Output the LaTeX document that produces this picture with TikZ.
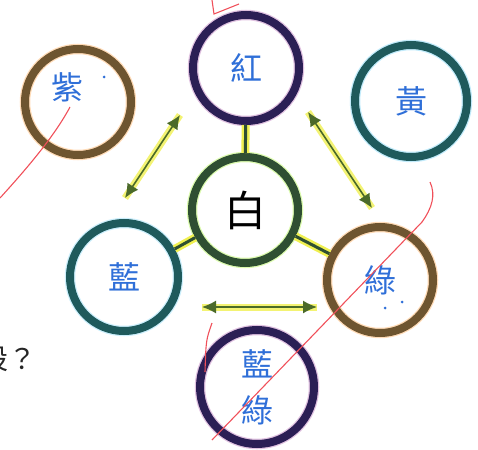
\documentclass[tikz,border=0pt]{standalone}
\usepackage{fontspec}
\newfontfamily\cjk{Noto Sans CJK TC}
\usetikzlibrary{arrows.meta}

\definecolor{ringpurple}{HTML}{2B1F55}
\definecolor{ringteal}{HTML}{1F5A5C}
\definecolor{ringbrown}{HTML}{6E5530}
\definecolor{ringgreen}{HTML}{2F4F32}
\definecolor{inkblue}{HTML}{2F6FD8}
\definecolor{arrowolive}{HTML}{4B6A2A}
\definecolor{glowyellow}{HTML}{F0F050}
\definecolor{penred}{HTML}{F0505A}

\begin{document}
\begin{tikzpicture}[x=1pt,y=-1pt,
  ring/.style={circle,draw,line width=8pt,minimum size=#1,inner sep=0pt},
  glow/.style={preaction={draw=#1,line width=10.5pt,opacity=.4}},
  hand/.style={font=\cjk\fontsize{32}{40}\selectfont,text=inkblue},
  spoke/.style={draw=ringgreen,line width=3pt,preaction={draw=glowyellow,line width=8pt}},
  swap/.style={draw=arrowolive,line width=1.6pt,{Latex[length=14pt,width=13pt]}-{Latex[length=14pt,width=13pt]},
    preaction={draw=glowyellow,line width=7pt,opacity=.8,arrows=-}},
  pen/.style={draw=penred,line width=1.1pt}
]
  \useasboundingbox (0,0) rectangle (478,449);

  \node[ring=106pt,draw=ringbrown,glow=orange!70,
    label={[hand,xshift=-11pt,yshift=15pt]center:紫}] (purple) at (78,102) {};
  \node[ring=106pt,draw=ringpurple,glow=violet!60,hand] (red) at (246,68) {紅};
  \node[ring=112pt,draw=ringteal,glow=cyan!60,hand] (yellow) at (411,101) {黃};
  \node[ring=106pt,draw=ringgreen,glow=glowyellow!70!green,
    font=\cjk\fontsize{42}{42}\selectfont] (white) at (245,210) {白};
  \node[ring=108pt,draw=ringteal,glow=cyan!50,hand] (blue) at (124,277) {藍};
  \node[ring=106pt,draw=ringbrown,glow=orange!70,hand] (green) at (380,280) {綠};
  \node[ring=114pt,draw=ringpurple,glow=violet!60,hand,align=center,
    font=\cjk\fontsize{32}{46}\selectfont] (cyan) at (257,387) {藍\\綠};

  \node[font=\cjk\fontsize{28}{28}\selectfont,text=black!85,inner sep=0pt,anchor=east] (ask) at (37,359) {設？};

  \draw[spoke] (white) -- (red);
  \draw[spoke] (white) -- (blue);
  \draw[spoke] (white) -- (green);

  \coordinate (ab1) at (125,198);
  \coordinate (ae1) at (180,115);
  \coordinate (ab2) at (308,112);
  \coordinate (ae2) at (372,208);
  \coordinate (ab3) at (202,307);
  \coordinate (ae3) at (317,307);
  \draw[swap] (ab1) -- (ae1);
  \draw[swap] (ab2) -- (ae2);
  \draw[swap] (ab3) -- (ae3);

  \fill[inkblue] (104,77) circle (1.5pt) (385,308) circle (1.5pt) (402,302) circle (1.5pt);

  \draw[pen] (70,107) .. controls (55,135) and (30,165) .. (0,198);
  \draw[pen] (212,0) -- (214,14) .. controls (224,10) .. (239,4);
  \draw[pen] (430,182) .. controls (436,195) and (432,208) .. (422,222) -- (212,440);
  \draw[pen] (212,323) .. controls (206,340) .. (205,372);
\end{tikzpicture}
\end{document}
